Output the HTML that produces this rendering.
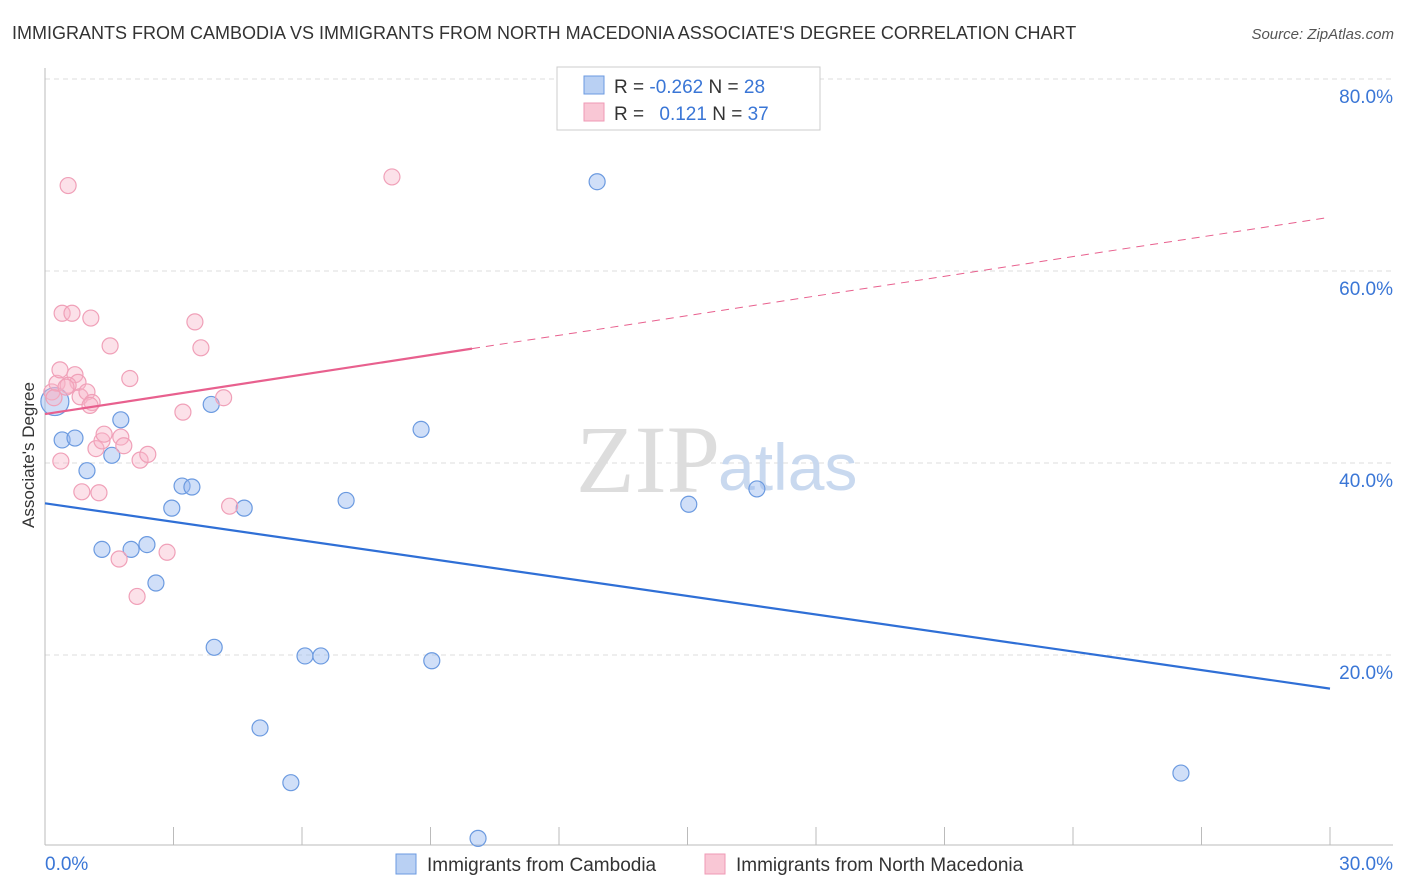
<!DOCTYPE html>
<html><head><meta charset="utf-8"><style>
body{margin:0;background:#fff;font-family:"Liberation Sans",sans-serif;}
svg{display:block}
</style></head><body>
<svg width="1406" height="892" xmlns="http://www.w3.org/2000/svg">
<text x="12" y="39" font-size="18" fill="#333">IMMIGRANTS FROM CAMBODIA VS IMMIGRANTS FROM NORTH MACEDONIA ASSOCIATE'S DEGREE CORRELATION CHART</text>
<text x="1394" y="39" font-size="15" fill="#555" font-style="italic" text-anchor="end">Source: ZipAtlas.com</text>
<g id="grid"></g>
<text x="720" y="492" font-size="96" fill="#ddd" font-family="Liberation Serif,serif" text-anchor="end">ZIP</text>
<text x="718" y="490" font-size="66" fill="#c9d9ef">atlas</text>
<g id="marks"></g>
<text x="34" y="455" font-size="17" fill="#333" text-anchor="middle" transform="rotate(-90 34 455)">Associate's Degree</text>
<g>
<rect x="557" y="67" width="263" height="63" fill="#fff" stroke="#ccc"/>
<rect x="584" y="76" width="20" height="18" fill="#b9d0f3" stroke="#6b9ae0"/>
<rect x="584" y="103" width="20" height="18" fill="#f9c7d5" stroke="#ef9ab5"/>
<text x="614" y="93" font-size="19" fill="#333">R = <tspan fill="#3a76d6">-0.262</tspan>   N = <tspan fill="#3a76d6">28</tspan></text>
<text x="614" y="120" font-size="19" fill="#333">R = <tspan fill="#3a76d6" dx="10">  0.121</tspan>   N = <tspan fill="#3a76d6">37</tspan></text>
</g>
<g>
<rect x="396" y="854" width="20" height="20" fill="#b9d0f3" stroke="#6b9ae0"/>
<text x="427" y="871" font-size="19" fill="#333">Immigrants from Cambodia</text>
<rect x="705" y="854" width="20" height="20" fill="#f9c7d5" stroke="#ef9ab5"/>
<text x="736" y="871" font-size="19" fill="#333">Immigrants from North Macedonia</text>
</g>
</svg>
<script>
const xTicks=[0,3,6,9,12,15,18,21,24,27,30];
const yTicks=[20,40,60,80];
const yTickLabels=["20.0%","40.0%","60.0%","80.0%"];
const cambX=[0.23,0.40,0.70,0.98,1.33,1.56,1.77,2.01,2.38,2.59,2.96,3.20,3.43,3.88,3.95,4.65,5.02,5.74,6.07,6.44,7.03,8.78,9.03,10.11,12.89,15.03,16.62,26.52];
const cambY=[46.4,42.4,42.6,39.2,31.0,40.8,44.5,31.0,31.5,27.5,35.3,37.6,37.5,46.1,20.8,35.3,12.4,6.7,19.9,19.9,36.1,43.5,19.4,0.9,69.3,35.7,37.3,7.7];
const macX=[0.16,0.28,0.54,0.40,0.63,1.07,1.52,0.35,0.70,0.77,0.54,0.82,0.98,1.10,1.05,0.37,0.86,1.26,1.19,1.33,1.38,1.77,1.84,1.98,1.73,2.15,2.22,2.40,2.85,3.22,3.50,3.64,4.17,4.31,8.10,0.21,0.49];
const macY=[47.4,48.3,68.9,55.6,55.6,55.1,52.2,49.7,49.2,48.4,48.1,46.9,47.4,46.3,46.0,40.2,37.0,36.9,41.5,42.3,43.0,42.7,41.8,48.8,30.0,26.1,40.3,40.9,30.7,45.3,54.7,52.0,46.8,35.5,69.8,46.8,47.9];
const cambTrend=[35.8,16.5];
const macTrend=[45.1,65.6];
const macSolidEnd=9.97;
const X=v=>45+v/30*1285, Y=v=>847-v*9.6;
const NS="http://www.w3.org/2000/svg";
function mk(t,a,p){const e=document.createElementNS(NS,t);for(const k in a)e.setAttribute(k,a[k]);p.appendChild(e);return e;}
const g=document.getElementById('grid'), m=document.getElementById('marks');
yTicks.forEach((t,i)=>{
 const l=mk('line',{x1:45,x2:1393,y1:Y(t),y2:Y(t),stroke:'#ddd','stroke-dasharray':'5,4'},g);
 
 
 const tx=mk('text',{x:1393,y:Y(t)+24,'font-size':19,fill:'#3a76d6','text-anchor':'end'},g);
 tx.textContent=yTickLabels[i];
 
 
});
const ya=mk('line',{x1:45,x2:45,y1:68,y2:845,stroke:'#bbb'},g);


const xa=mk('line',{x1:45,x2:1393,y1:845,y2:845,stroke:'#bbb'},g);


xTicks.forEach(t=>{
 const l=mk('line',{x1:X(t),x2:X(t),y1:827,y2:845,stroke:'#bbb'},g);
 
 
});
[[0,'0.0%','start',45],[30,'30.0%','end',1393]].forEach(d=>{
 const tx=mk('text',{x:d[3],y:870,'font-size':19,fill:'#3a76d6','text-anchor':d[2]},g);
 tx.textContent=d[1];
 
 
});
cambX.forEach((x,i)=>{
 const c=mk('circle',{cx:X(x),cy:Y(cambY[i]),r:i==0?14:8,fill:'rgba(150,185,240,0.45)',stroke:'#6b9ae0','stroke-width':1.2},m);
 
 
});
macX.forEach((x,i)=>{
 const c=mk('circle',{cx:X(x),cy:Y(macY[i]),r:8,fill:'rgba(248,180,200,0.4)',stroke:'#f0a0b8','stroke-width':1.2},m);
 
 
});
const bt=mk('line',{x1:X(0),y1:Y(cambTrend[0]),x2:X(30),y2:Y(cambTrend[1]),stroke:'#2f6fd6','stroke-width':2.2},m);


const my=v=>macTrend[0]+(macTrend[1]-macTrend[0])*v/30;
const pt=mk('line',{x1:X(0),y1:Y(macTrend[0]),x2:X(macSolidEnd),y2:Y(my(macSolidEnd)),stroke:'#e8608e','stroke-width':2.2},m);


const pd=mk('line',{x1:X(macSolidEnd),y1:Y(my(macSolidEnd)),x2:X(30),y2:Y(macTrend[1]),stroke:'#e8608e','stroke-width':1,'stroke-dasharray':'8,6'},m);


</script>
</body></html>
